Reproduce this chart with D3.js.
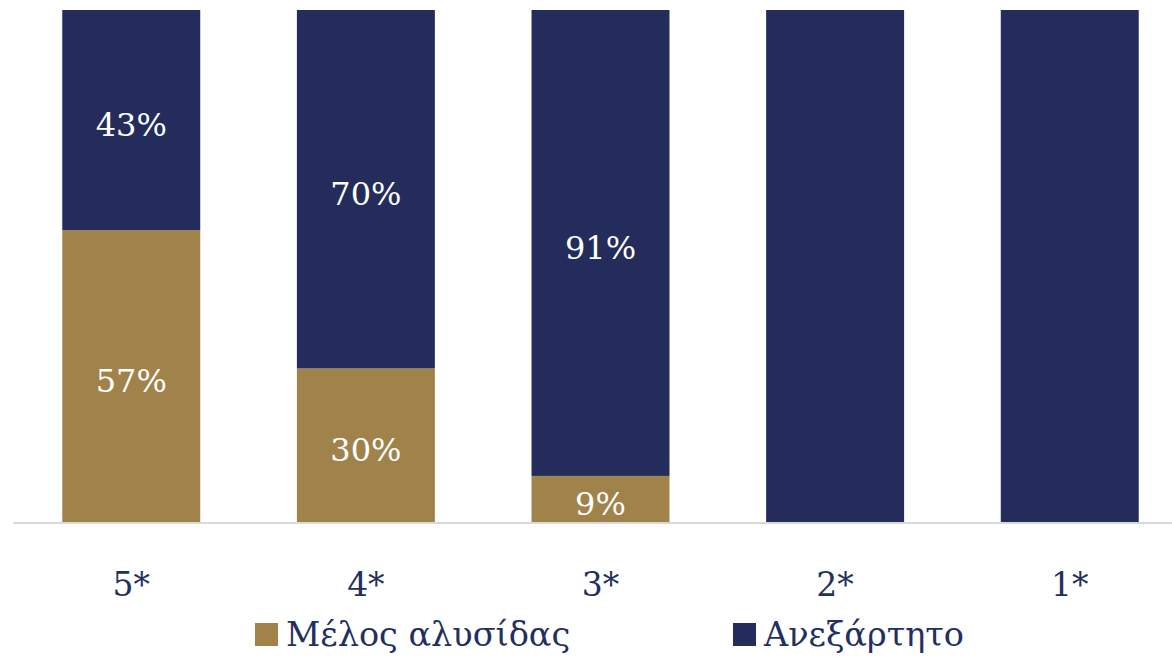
<!DOCTYPE html>
<html><head><meta charset="utf-8">
<script src="https://cdn.jsdelivr.net/npm/d3@7/dist/d3.min.js"></script>
<style>body{margin:0;background:#fff}svg{display:block}</style>
</head><body>
<svg id="c" width="1172" height="661"></svg>
<script>
const categories = ["5*", "4*", "3*", "2*", "1*"];
const seriesNames = ["Μέλος αλυσίδας", "Ανεξάρτητο"];
const chainValues = [57, 30, 9, 0, 0];
const independentValues = [43, 70, 91, 100, 100];
const colors = ["#a0824b", "#232c5a"];

const svg = d3.select("#c");
const font = "'DejaVu Serif', 'Liberation Serif', serif";

const x = d3.scaleBand().domain(categories).range([13, 1188]).paddingInner(0.412).paddingOuter(0.21);
const y = d3.scaleLinear().domain([0, 100]).range([522, 10]);

const rows = categories.map((c, i) => ({cat: c, s0: chainValues[i], s1: independentValues[i]}));
const stack = d3.stack().keys(["s0", "s1"]);
const layers = stack(rows);

const g = svg.append("g");
layers.forEach((layer, li) => {
  g.selectAll(null).data(layer).enter().append("rect")
    .attr("x", d => x(d.data.cat))
    .attr("width", x.bandwidth())
    .attr("y", d => y(d[1]))
    .attr("height", d => y(d[0]) - y(d[1]))
    .attr("fill", colors[li]);
});

// axis line
svg.append("line").attr("x1", 13).attr("x2", 1172).attr("y1", 523).attr("y2", 523)
  .attr("stroke", "#d9d9d9").attr("stroke-width", 2);

// data labels
layers.forEach((layer, li) => {
  g.selectAll(null).data(layer.filter(d => d[1] - d[0] > 0 && d[1] - d[0] < 100)).enter().append("text")
    .attr("x", d => x(d.data.cat) + x.bandwidth() / 2)
    .attr("y", d => (y(d[0]) + y(d[1])) / 2 + 5)
    .attr("text-anchor", "middle")
    .attr("dominant-baseline", "central")
    .attr("fill", "#ffffff")
    .style("font-family", font)
    .style("font-size", "32px")
    .text(d => (d[1] - d[0]) + "%");
});

// category labels
svg.selectAll(null).data(categories).enter().append("text")
  .attr("x", d => x(d) + x.bandwidth() / 2)
  .attr("y", 596)
  .attr("text-anchor", "middle")
  .attr("fill", "#23305f")
  .style("font-family", font)
  .style("font-size", "33px")
  .text(d => d);

// legend
const legendItems = [{name: seriesNames[0], color: colors[0], x: 255}, {name: seriesNames[1], color: colors[1], x: 733}];
legendItems.forEach(it => {
  svg.append("rect").attr("x", it.x).attr("y", 623).attr("width", 23).attr("height", 23).attr("fill", it.color);
  svg.append("text").attr("x", it.x + 31).attr("y", 646)
    .attr("fill", "#23305f")
    .style("font-family", font)
    .style("font-size", "33.5px")
    .text(it.name);
});
</script>
</body></html>
